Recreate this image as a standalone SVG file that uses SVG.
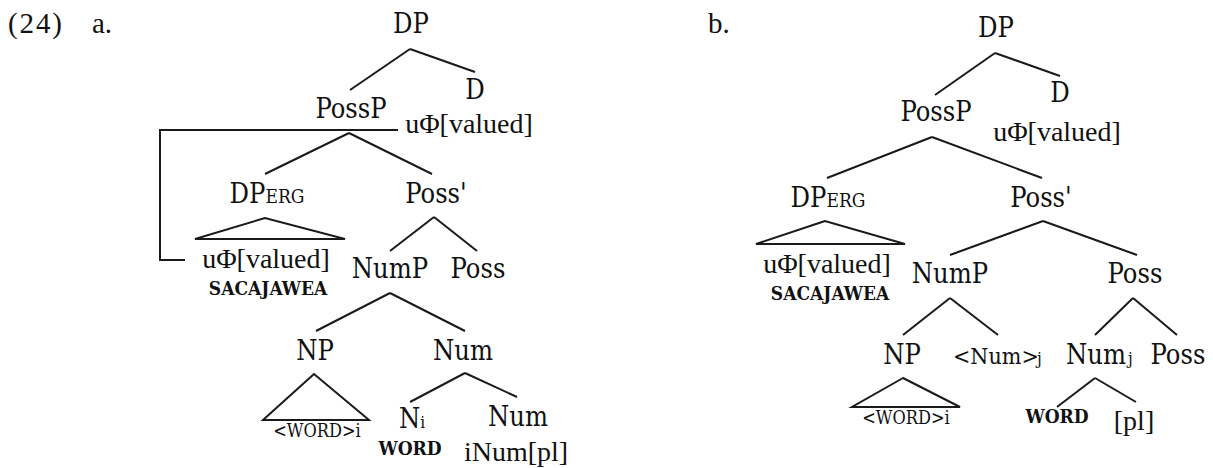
<svg xmlns="http://www.w3.org/2000/svg" width="1213" height="468" viewBox="0 0 1213 468">
<style>
.lab{font-family:"DejaVu Serif Condensed","DejaVu Serif",serif;font-stretch:condensed;font-size:27px;fill:#111;text-anchor:middle}
.st{text-anchor:start}
.tm{font-family:"Liberation Serif","Times New Roman",serif;font-size:28px;fill:#111;text-anchor:middle}
.hd{font-family:"Liberation Serif","Times New Roman",serif;font-size:29px;fill:#111}
.sc{font-family:"DejaVu Serif Condensed","DejaVu Serif",serif;font-stretch:condensed;font-size:19px;font-weight:bold;fill:#111;text-anchor:middle}
.sm{font-family:"DejaVu Serif Condensed","DejaVu Serif",serif;font-stretch:condensed;font-size:18px;fill:#111;text-anchor:middle}
.sub{font-size:17px}
.erg{font-size:19px}
.ln{stroke:#1a1a1a;stroke-width:2;fill:none}
.tri{stroke:#1a1a1a;stroke-width:2;fill:none;stroke-linejoin:miter}
</style>
<rect width="1213" height="468" fill="#fff"/>
<g id="headings">
<text class="hd" x="8" y="33" textLength="54">(24)</text>
<text class="hd" x="92" y="33">a.</text>
<text class="hd" x="708" y="33">b.</text>
</g>
<g id="connectors">
<line class="ln" x1="410" y1="49" x2="350" y2="90"/>
<line class="ln" x1="410" y1="49" x2="475" y2="72"/>
<polyline class="ln" points="398,130 160,130 160,260 185,260"/>
<line class="ln" x1="349" y1="133" x2="265" y2="174"/>
<line class="ln" x1="349" y1="133" x2="432" y2="174"/>
<polygon class="tri" points="265,218 195,239 345,239"/>
<line class="ln" x1="434" y1="217" x2="390" y2="251"/>
<line class="ln" x1="434" y1="217" x2="477" y2="251"/>
<line class="ln" x1="390" y1="293" x2="316" y2="331"/>
<line class="ln" x1="390" y1="293" x2="465" y2="331"/>
<polygon class="tri" points="314,374 263,420 369,420"/>
<line class="ln" x1="465" y1="373" x2="410" y2="402"/>
<line class="ln" x1="465" y1="373" x2="517" y2="397"/>
<line class="ln" x1="995" y1="53" x2="935" y2="95"/>
<line class="ln" x1="995" y1="53" x2="1060" y2="76"/>
<line class="ln" x1="932" y1="137" x2="827" y2="178"/>
<line class="ln" x1="932" y1="137" x2="1042" y2="178"/>
<polygon class="tri" points="825,221 756,244 905,244"/>
<line class="ln" x1="1043" y1="221" x2="950" y2="255"/>
<line class="ln" x1="1043" y1="221" x2="1137" y2="255"/>
<line class="ln" x1="950" y1="298" x2="903" y2="335"/>
<line class="ln" x1="950" y1="298" x2="998" y2="335"/>
<line class="ln" x1="1133" y1="298" x2="1095" y2="335"/>
<line class="ln" x1="1133" y1="298" x2="1177" y2="335"/>
<polygon class="tri" points="903,378 852,407 960,407"/>
<line class="ln" x1="1095" y1="378" x2="1057" y2="407"/>
<line class="ln" x1="1095" y1="378" x2="1136" y2="402"/>
</g>
<g id="a-DP"><text class="lab" x="411" y="33">DP</text></g>
<g id="a-D"><text class="lab" x="475" y="99">D</text><text class="tm" x="469" y="133">uΦ[valued]</text></g>
<g id="a-PossP"><text class="lab" x="351" y="118">PossP</text></g>
<g id="a-DPerg"><text class="lab" x="267" y="203">DP<tspan class="erg">ERG</tspan></text></g>
<g id="a-DPerg-leaf"><text class="tm" x="266" y="268">uΦ[valued]</text><text class="sc" x="268" y="295">SACAJAWEA</text></g>
<g id="a-PossBar"><text class="lab" x="436" y="203">Poss'</text></g>
<g id="a-NumP"><text class="lab" x="390" y="278">NumP</text></g>
<g id="a-Poss"><text class="lab" x="478" y="278">Poss</text></g>
<g id="a-NP"><text class="lab" x="315" y="360">NP</text></g>
<g id="a-NP-leaf"><text class="sm" x="317" y="437">&lt;WORD&gt;i</text></g>
<g id="a-Num"><text class="lab" x="463" y="360">Num</text></g>
<g id="a-Ni"><text class="lab" x="412" y="428">N<tspan class="sub">i</tspan></text><text class="sc" x="410" y="455">WORD</text></g>
<g id="a-Num2"><text class="lab" x="518" y="426">Num</text><text class="tm" x="516" y="461">iNum[pl]</text></g>

<g id="b-DP"><text class="lab" x="996" y="37">DP</text></g>
<g id="b-D"><text class="lab" x="1060" y="102">D</text><text class="tm" x="1057" y="141">uΦ[valued]</text></g>
<g id="b-PossP"><text class="lab" x="936" y="121">PossP</text></g>
<g id="b-DPerg"><text class="lab" x="828" y="207">DP<tspan class="erg">ERG</tspan></text></g>
<g id="b-DPerg-leaf"><text class="tm" x="827" y="273">uΦ[valued]</text><text class="sc" x="830" y="300">SACAJAWEA</text></g>
<g id="b-PossBar"><text class="lab" x="1041" y="207">Poss'</text></g>
<g id="b-NumP"><text class="lab" x="950" y="283">NumP</text></g>
<g id="b-Poss"><text class="lab" x="1135" y="283">Poss</text></g>
<g id="b-NP"><text class="lab" x="902" y="364">NP</text></g>
<g id="b-NP-leaf"><text class="sm" x="906" y="424">&lt;WORD&gt;i</text></g>
<g id="b-NumTrace"><text class="lab st" x="953" y="364" style="font-size:23px">&lt;Num&gt;</text><text class="lab st sub" x="1037" y="364">j</text></g>
<g id="b-Numj"><text class="lab st" x="1066" y="364">Num</text><text class="lab st sub" x="1128" y="364">j</text></g>
<g id="b-Poss2"><text class="lab" x="1178" y="364">Poss</text></g>
<g id="b-WORD"><text class="sc" x="1057" y="423">WORD</text></g>
<g id="b-pl"><text class="tm" x="1134" y="430">[pl]</text></g>
</svg>
